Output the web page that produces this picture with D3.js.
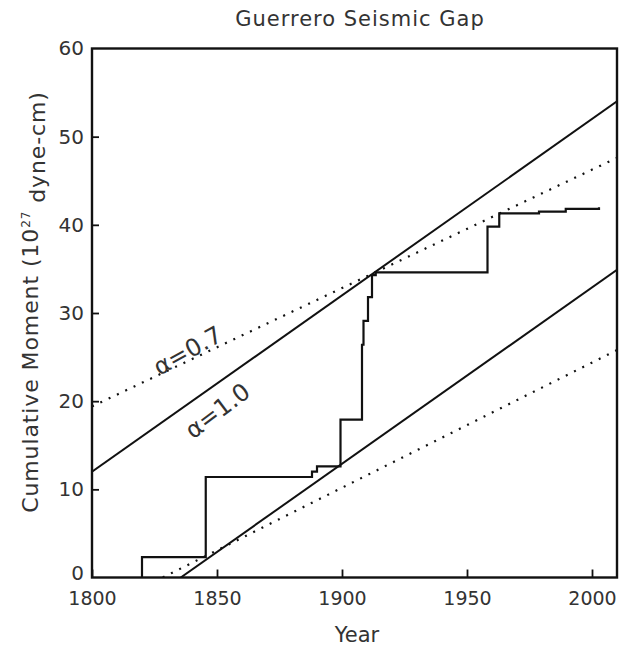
<!DOCTYPE html>
<html>
<head>
<meta charset="utf-8">
<script src="https://cdn.jsdelivr.net/npm/d3@7"></script>
<style>
body { margin: 0; background: #fff; }
text { font-family: "DejaVu Sans", "Liberation Sans", sans-serif; fill: #333; }
</style>
</head>
<body>
<svg id="chart" width="620" height="647"></svg>
<script>
// ---- data ----
const title = "Guerrero Seismic Gap";
const xTicks = [1800, 1850, 1900, 1950, 2000];
const yTicks = [0, 10, 20, 30, 40, 50, 60];
// cumulative moment step series [year, moment]
const cumulativeYears  = [1820, 1820, 1845.5, 1888, 1890, 1899.4, 1908, 1908.6, 1910.4, 1912, 1913.5, 1958.2, 1962.9, 1978.8, 1989.5, 2002.8];
const cumulativeValues = [0,    2.3,  11.4,   12.0, 12.6, 17.9,   26.4, 29.1,   31.8,   34.3, 34.6,   39.8,   41.3,   41.5,   41.8,   42.0];
// reference lines (endpoints)
const alpha10UpperYears = [1800, 2010], alpha10UpperValues = [12.0, 54.0];
const alpha10LowerYears = [1835.5, 2010], alpha10LowerValues = [0, 34.9];
const alpha07UpperYears = [1800, 2010], alpha07UpperValues = [19.4, 47.6];
const alpha07LowerYears = [1828.3, 2010], alpha07LowerValues = [0, 25.8];
const labels = [
  {text: "\u03b1=0.7", year: 1838.5, value: 25.6, angle: -29},
  {text: "\u03b1=1.0", year: 1850.5, value: 18.8, angle: -37}
];

// ---- layout ----
const svg = d3.select("#chart");
const L = 92, R = 617, T = 48.5, B = 577.5;
const x = d3.scaleLinear().domain([1800, 2010]).range([L, R]);
const y = d3.scaleLinear().domain([0, 60]).range([B, T]);

const zip = (a, b) => a.map((v, i) => [v, b[i]]);
const line = d3.line().x(d => x(d[0])).y(d => y(d[1]));

svg.append("clipPath").attr("id", "clip").append("rect")
  .attr("x", L).attr("y", T).attr("width", R - L).attr("height", B - T);
const g = svg.append("g").attr("clip-path", "url(#clip)");

// dotted alpha=0.7 lines
[[alpha07UpperYears, alpha07UpperValues], [alpha07LowerYears, alpha07LowerValues]].forEach(([a, b]) => {
  g.append("path").attr("d", line(zip(a, b)))
    .attr("fill", "none").attr("stroke", "#111").attr("stroke-width", 2.2)
    .attr("stroke-dasharray", "2 7.2");
});
// solid alpha=1.0 lines
[[alpha10UpperYears, alpha10UpperValues], [alpha10LowerYears, alpha10LowerValues]].forEach(([a, b]) => {
  g.append("path").attr("d", line(zip(a, b)))
    .attr("fill", "none").attr("stroke", "#111").attr("stroke-width", 2);
});
// step series
g.append("path")
  .attr("d", d3.line().x(d => x(d[0])).y(d => y(d[1])).curve(d3.curveStepAfter)(zip(cumulativeYears, cumulativeValues)))
  .attr("fill", "none").attr("stroke", "#111").attr("stroke-width", 2.2);

// axes
const xAxis = d3.axisBottom(x).tickValues(xTicks).tickSize(-8).tickPadding(13).tickFormat(d3.format("d"));
const xg = svg.append("g").attr("transform", `translate(0,${B})`).call(xAxis);
xg.select(".domain").remove();
xg.selectAll(".tick line").attr("stroke", "#111").attr("stroke-width", 1.8);
xg.selectAll(".tick text").style("font-size", "19px").attr("fill", "#333").attr("dy", "0.75em");

const yAxis = d3.axisLeft(y).tickValues(yTicks).tickSize(-7).tickPadding(8);
const yg = svg.append("g").attr("transform", `translate(${L},0)`).call(yAxis);
yg.select(".domain").remove();
yg.selectAll(".tick line").attr("stroke", "#111").attr("stroke-width", 1.8)
  .filter(d => d === 0 || d === 60).remove();
yg.selectAll(".tick text").style("font-size", "20px").attr("fill", "#333");
yg.selectAll(".tick").filter(d => d === 0).select("text").attr("dy", "0.1em");

// frame
svg.append("rect").attr("x", L).attr("y", T).attr("width", R - L).attr("height", B - T)
  .attr("fill", "none").attr("stroke", "#111").attr("stroke-width", 2.4);

// title
svg.append("text").attr("x", 360).attr("y", 26).attr("text-anchor", "middle")
  .style("font-size", "21px").style("letter-spacing", "1px").text(title);

// x label
svg.append("text").attr("x", 357).attr("y", 642).attr("text-anchor", "middle")
  .style("font-size", "21px").text("Year");

// y label
const yl = svg.append("text").attr("transform", "translate(38,302) rotate(-90)")
  .attr("text-anchor", "middle").style("font-size", "22px").style("letter-spacing", "0.9px");
yl.append("tspan").text("Cumulative Moment (10");
yl.append("tspan").attr("dy", "-0.7em").style("font-size", "12px").text("27");
yl.append("tspan").attr("dy", "0.7em").text(" dyne-cm)");

// alpha labels
labels.forEach(l => {
  svg.append("text")
    .attr("transform", `translate(${x(l.year)},${y(l.value)}) rotate(${l.angle})`)
    .attr("text-anchor", "middle").attr("dominant-baseline", "middle")
    .style("font-size", "24px").text(l.text);
});
</script>
</body>
</html>
